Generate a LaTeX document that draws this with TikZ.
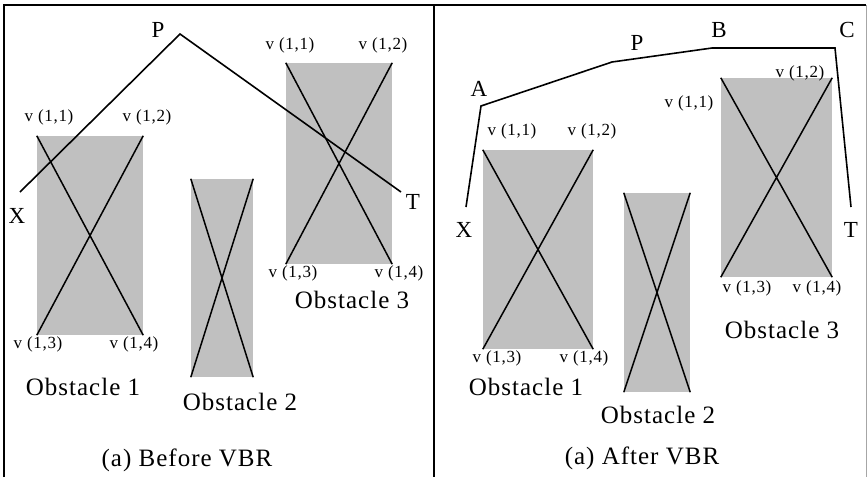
\documentclass[tikz,border=0pt]{standalone}
\usepackage{fontspec}
\setmainfont[LetterSpace=4]{Liberation Serif}
\usetikzlibrary{positioning}
\definecolor{obgray}{RGB}{192,192,192}

\begin{document}
\begin{tikzpicture}[
  x=1pt, y=-1pt,
  obst/.style={rectangle, fill=obgray, inner sep=0pt},
  route/.style={line width=1.6pt, line join=miter},
  xline/.style={line width=1.5pt},
  frame/.style={line width=1.6pt},
  vlab/.style={font=\fontsize{17}{17}\selectfont, inner sep=0pt},
  plab/.style={font=\fontsize{23}{23}\selectfont, inner sep=0pt},
  olab/.style={font=\fontsize{25}{25}\selectfont, inner sep=0pt}
]
\useasboundingbox (0,0) rectangle (868,477);

% frame
\draw[frame] (4,477) -- (4,5) -- (866,5);
\draw[frame] (434,5) -- (434,477);
\draw[line width=0.8pt, black!35] (866,5) -- (866,477);

% obstacles, before VBR
\node[obst, minimum width=106pt, minimum height=199pt] (o1) at (90,235.5) {};
\node[obst, minimum width=62pt, minimum height=198pt] (o2) at (222,278) {};
\node[obst, minimum width=106pt, minimum height=201pt] (o3) at (339,163.5) {};
% obstacles, after VBR
\node[obst, minimum width=110pt, minimum height=199pt] (r1) at (538,249.5) {};
\node[obst, minimum width=66pt, minimum height=199pt] (r2) at (657,292.5) {};
\node[obst, minimum width=111pt, minimum height=199pt] (r3) at (776.5,177.5) {};

\foreach \o in {o1,o2,o3,r1,r2,r3}
  \draw[xline] (\o.north west) -- (\o.south east) (\o.north east) -- (\o.south west);

% vertex labels
\node[vlab] (o1v1) at (49,117) {v (1,1)};
\node[vlab] (o1v2) at (147,117) {v (1,2)};
\node[vlab] (o1v3) at (38,344) {v (1,3)};
\node[vlab] (o1v4) at (134,344) {v (1,4)};
\node[vlab] (o3v1) at (290,45) {v (1,1)};
\node[vlab] (o3v2) at (383,45) {v (1,2)};
\node[vlab] (o3v3) at (293,273) {v (1,3)};
\node[vlab] (o3v4) at (399,273) {v (1,4)};
\node[vlab] (r1v1) at (512,131) {v (1,1)};
\node[vlab] (r1v2) at (592,131) {v (1,2)};
\node[vlab] (r1v3) at (497,358) {v (1,3)};
\node[vlab] (r1v4) at (584,358) {v (1,4)};
\node[vlab] (r3v1) at (689,103) {v (1,1)};
\node[vlab] (r3v2) at (800,73) {v (1,2)};
\node[vlab] (r3v3) at (747,288) {v (1,3)};
\node[vlab] (r3v4) at (817,288) {v (1,4)};

% obstacle names
\node[olab] (o1name) at (83,387) {Obstacle 1};
\node[olab] (o2name) at (240,402) {Obstacle 2};
\node[olab] (o3name) at (352,300) {Obstacle 3};
\node[olab] (r1name) at (526,387) {Obstacle 1};
\node[olab] (r2name) at (658,415) {Obstacle 2};
\node[olab] (r3name) at (782,330) {Obstacle 3};

% route before VBR
\coordinate (lx) at (20,192);
\coordinate (lp) at (180,34);
\coordinate (lt) at (401,192);
\draw[route] (lx) -- (lp) -- (lt);
\node[plab] (lxname) at (17,216) {X};
\node[plab] (lpname) at (158,30) {P};
\node[plab] (ltname) at (413,202) {T};

% route after VBR
\coordinate (rx) at (466,207);
\coordinate (ra) at (481,106);
\coordinate (rp) at (612,62);
\coordinate (rb) at (712,48);
\coordinate (rc) at (835,48);
\coordinate (rt) at (851,207);
\draw[route] (rx) -- (ra) -- (rp) -- (rb) -- (rc) -- (rt);
\node[plab] (rxname) at (464,230) {X};
\node[plab] (raname) at (479,89) {A};
\node[plab] (rpname) at (637,43) {P};
\node[plab] (rbname) at (719,30) {B};
\node[plab] (rcname) at (847,30) {C};
\node[plab] (rtname) at (851,230) {T};

% captions
\node[olab] (capa) at (187,460) {(a) Before VBR};
\node[olab] (capb) at (642,458) {(a) After VBR};

\end{tikzpicture}
\end{document}
